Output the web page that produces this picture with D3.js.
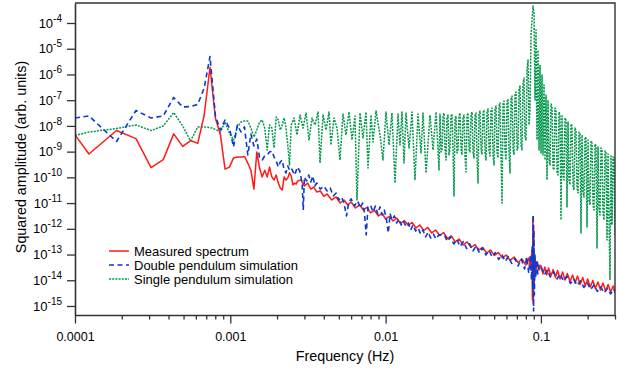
<!DOCTYPE html>
<html>
<head>
<meta charset="utf-8">
<script src="https://cdn.jsdelivr.net/npm/d3@7"></script>
<style>
  body { margin: 0; background: #fff; }
  svg { font-family: "Liberation Sans", Arial, Helvetica, sans-serif; }
</style>
</head>
<body>
<div id="chart"></div>
<script>
// ---- data: [frequency (Hz), squared amplitude] ----
const measured = [
  [1.0e-4, 4.5e-9], [1.23e-4, 8.1e-10], [1.85e-4, 6.6e-9], [2.47e-4, 3.2e-9], [3.09e-4, 2.4e-10],
  [3.70e-4, 4.9e-10], [4.32e-4, 4.9e-9], [4.94e-4, 1.6e-9], [5.55e-4, 2.7e-9], [6.17e-4, 2.1e-9],
  [6.79e-4, 2.6e-8], [7.40e-4, 1.9e-6], [8.02e-4, 2.0e-8], [8.64e-4, 4.5e-9], [9.25e-4, 2.1e-10],
  [9.87e-4, 2.5e-10], [1.049e-3, 5.7e-10], [1.111e-3, 6.2e-10], [1.172e-3, 6.2e-10], [1.234e-3, 6.5e-10],
  [1.296e-3, 3.6e-10], [1.357e-3, 1.9e-10], [1.419e-3, 3.5e-11], [1.481e-3, 9.7e-10], [1.543e-3, 2.3e-10],
  [1.604e-3, 1.04e-10], [1.666e-3, 1.9e-10], [1.728e-3, 1.04e-10], [1.789e-3, 2.5e-10], [1.851e-3, 1.04e-10],
  [1.913e-3, 7.9e-11], [1.974e-3, 1.24e-10], [2.036e-3, 6.0e-11], [2.098e-3, 3.9e-11], [2.160e-3, 3.2e-11],
  [2.221e-3, 1.04e-10], [2.283e-3, 7.9e-11], [2.345e-3, 9.5e-11], [2.406e-3, 1.5e-10], [2.468e-3, 1.13e-10],
  [2.530e-3, 5.1e-11], [2.591e-3, 6.0e-11], [2.653e-3, 5.5e-11], [2.715e-3, 7.2e-11], [2.85e-3, 7.9e-11],
  [3.0e-3, 4.6e-11], [3.15e-3, 6.0e-11], [3.3e-3, 3.5e-11], [3.45e-3, 4.2e-11], [3.6e-3, 2.7e-11],
  [3.8e-3, 2.95e-11], [0.0040, 1.84e-11], [0.0042, 2.26e-11], [0.0045, 1.32e-11], [0.0048, 1.73e-11],
  [0.0051, 1.01e-11], [0.0054, 1.32e-11], [0.0057, 8.45e-12], [0.0060, 1.10e-11], [0.0064, 6.45e-12],
  [0.0068, 8.45e-12], [0.0072, 5.4e-12], [0.0076, 6.75e-12], [0.0080, 4.13e-12], [0.0085, 5.16e-12],
  [0.0090, 3.16e-12], [0.0095, 3.95e-12], [0.0100, 2.41e-12], [0.0106, 3.02e-12], [0.0112, 2.02e-12],
  [0.0118, 2.64e-12], [0.0125, 1.61e-12], [0.0132, 2.11e-12], [0.0140, 1.35e-12], [0.0148, 1.76e-12],
  [0.0157, 1.08e-12], [0.0166, 1.41e-12], [0.0176, 8.6e-13], [0.0187, 1.13e-12], [0.0198, 6.9e-13],
  [0.0210, 9.0e-13], [0.0223, 5.5e-13], [0.0236, 7.2e-13], [0.0250, 4.2e-13], [0.0265, 5.3e-13],
  [0.0281, 3.1e-13], [0.0298, 4.0e-13], [0.0316, 2.35e-13], [0.0335, 3.1e-13], [0.0355, 1.88e-13],
  [0.0376, 2.46e-13], [0.0398, 1.51e-13], [0.0422, 1.88e-13], [0.0447, 1.15e-13], [0.0474, 1.51e-13],
  [0.0502, 9.2e-14], [0.0532, 1.2e-13], [0.0564, 7.4e-14], [0.0598, 9.6e-14], [0.0634, 5.9e-14],
  [0.0672, 8.0e-14], [0.0712, 4.9e-14], [0.0755, 6.7e-14], [0.0800, 3.9e-14], [0.0830, 7.4e-14],
  [0.0860, 3.0e-14], [0.0875, 1.5e-13], [0.0882, 1.7e-15], [0.0888, 2.9e-12], [0.0893, 1.2e-15],
  [0.0898, 1.4e-12], [0.0905, 6.6e-15], [0.0915, 7.4e-14], [0.0930, 2.1e-14], [0.0950, 5.1e-14],
  [0.0975, 2.5e-14], [0.100, 3.8e-14], [0.103, 1.76e-14], [0.106, 3.3e-14], [0.109, 1.61e-14],
  [0.112, 3.0e-14], [0.116, 1.47e-14], [0.120, 2.6e-14], [0.124, 1.29e-14], [0.128, 2.4e-14],
  [0.133, 1.12e-14], [0.138, 2.1e-14], [0.143, 1.03e-14], [0.148, 1.84e-14], [0.154, 9.0e-15],
  [0.160, 1.61e-14], [0.166, 7.9e-15], [0.172, 1.47e-14], [0.179, 6.9e-15], [0.186, 1.29e-14],
  [0.193, 6.0e-15], [0.200, 1.12e-14], [0.208, 5.5e-15], [0.216, 9.8e-15], [0.224, 4.8e-15],
  [0.233, 8.6e-15], [0.242, 4.2e-15], [0.251, 7.9e-15], [0.261, 3.8e-15], [0.271, 6.9e-15],
  [0.281, 3.5e-15], [0.292, 6.0e-15], [0.300, 3.8e-15]
];

const doublePendulum = [
  [1.0e-4, 2.03e-8], [1.23e-4, 2.43e-8], [1.85e-4, 2.48e-9], [2.47e-4, 3.97e-8], [3.09e-4, 2.03e-8],
  [3.70e-4, 2.43e-8], [4.32e-4, 1.27e-7], [4.94e-4, 5.43e-8], [5.55e-4, 5.69e-8], [6.17e-4, 6.8e-8],
  [6.79e-4, 2.98e-7], [7.40e-4, 4.99e-6], [8.02e-4, 2.43e-8], [8.64e-4, 6.94e-9], [9.25e-4, 1.7e-8],
  [9.87e-4, 8.3e-9], [1.049e-3, 1.52e-9], [1.111e-3, 1.09e-8], [1.172e-3, 5.8e-9], [1.234e-3, 9.1e-9],
  [1.296e-3, 7.4e-10], [1.357e-3, 4.85e-9], [1.419e-3, 1.66e-9], [1.481e-3, 3.1e-9], [1.543e-3, 5.67e-10],
  [1.604e-3, 4.74e-10], [1.666e-3, 6.78e-10], [1.728e-3, 7.4e-10], [1.789e-3, 9.7e-10], [1.851e-3, 1.06e-9],
  [1.913e-3, 6.2e-10], [1.974e-3, 4.33e-10], [2.036e-3, 2.53e-10], [2.098e-3, 3.96e-10], [2.160e-3, 4.74e-10],
  [2.221e-3, 1.94e-10], [2.283e-3, 1.48e-10], [2.345e-3, 2.77e-10], [2.406e-3, 1.94e-10], [2.468e-3, 2.32e-10],
  [2.6e-3, 1.24e-10], [2.7e-3, 2.53e-10], [2.8e-3, 1.77e-10], [2.9e-3, 6.05e-11], [2.95e-3, 5.4e-12],
  [3.0e-3, 1.04e-10], [3.1e-3, 7.2e-11], [3.2e-3, 1.24e-10], [3.3e-3, 6.6e-11], [3.4e-3, 1.13e-10],
  [3.5e-3, 4.6e-11], [3.6e-3, 6.05e-11], [3.8e-3, 3.5e-11], [4.0e-3, 4.6e-11], [4.2e-3, 2.96e-11],
  [4.4e-3, 3.86e-11], [4.6e-3, 1.89e-11], [4.8e-3, 2.47e-11], [5.0e-3, 1.32e-11], [5.2e-3, 1.73e-11],
  [5.4e-3, 1.01e-11], [5.6e-3, 3.16e-12], [5.8e-3, 1.1e-11], [6.0e-3, 1.45e-11], [6.3e-3, 7.7e-12],
  [6.6e-3, 1.21e-11], [6.9e-3, 6.45e-12], [7.1e-3, 1.01e-11], [7.3e-3, 4.5e-12], [7.5e-3, 5.8e-13],
  [7.7e-3, 7.1e-12], [8.0e-3, 8.45e-12], [8.3e-3, 4.5e-12], [8.6e-3, 7.7e-12], [8.9e-3, 3.78e-12],
  [9.2e-3, 7.1e-12], [9.5e-3, 3.45e-12], [9.8e-3, 5.4e-12], [1.01e-2, 2.64e-12], [1.04e-2, 6.9e-13],
  [1.07e-2, 3.78e-12], [1.10e-2, 2.21e-12], [1.14e-2, 3.16e-12], [1.18e-2, 1.69e-12], [1.22e-2, 2.41e-12],
  [1.26e-2, 1.41e-12], [1.30e-2, 2.02e-12], [1.35e-2, 1.29e-12], [1.40e-2, 1.69e-12], [1.45e-2, 9.0e-13],
  [1.50e-2, 1.41e-12], [1.56e-2, 8.2e-13], [1.62e-2, 1.08e-12], [1.68e-2, 6.3e-13], [1.74e-2, 9.0e-13],
  [1.81e-2, 4.82e-13], [1.88e-2, 7.5e-13], [1.95e-2, 4.4e-13], [2.03e-2, 6.3e-13], [2.11e-2, 4.03e-13],
  [2.20e-2, 5.8e-13], [0.0240, 5.5e-13], [0.0250, 3.22e-13], [0.0262, 4.82e-13], [0.0275, 2.58e-13],
  [0.0288, 3.85e-13], [0.0302, 2.06e-13], [0.0317, 3.22e-13], [0.0332, 1.72e-13], [0.0348, 2.58e-13],
  [0.0365, 1.38e-13], [0.0383, 2.15e-13], [0.0402, 1.15e-13], [0.0421, 1.8e-13], [0.0442, 9.6e-14],
  [0.0463, 1.44e-13], [0.0486, 8.05e-14], [0.0510, 1.2e-13], [0.0535, 6.4e-14], [0.0561, 1.0e-13],
  [0.0589, 5.4e-14], [0.0618, 8.4e-14], [0.0648, 4.5e-14], [0.0680, 7.0e-14], [0.0713, 3.6e-14],
  [0.0748, 6.7e-14], [0.0785, 2.75e-14], [0.0810, 8.05e-14], [0.0835, 1.92e-14], [0.0855, 9.6e-14],
  [0.0870, 1.03e-14], [0.0880, 2.35e-13], [0.0887, 4.2e-15], [0.0892, 3.45e-12], [0.0897, 6.4e-16],
  [0.0902, 9.0e-13], [0.0908, 2.7e-15], [0.0916, 9.6e-14], [0.0926, 1.23e-14], [0.0940, 6.15e-14],
  [0.0955, 1.76e-14], [0.0972, 3.94e-14], [0.101, 3.0e-14], [0.105, 1.61e-14], [0.110, 2.5e-14],
  [0.115, 1.34e-14], [0.121, 2.1e-14], [0.127, 1.12e-14], [0.133, 1.76e-14], [0.140, 9.4e-15],
  [0.147, 1.41e-14], [0.155, 7.5e-15], [0.163, 1.12e-14], [0.171, 6.3e-15], [0.180, 9.4e-15],
  [0.189, 5.25e-15], [0.199, 7.85e-15], [0.209, 4.4e-15], [0.220, 6.6e-15], [0.231, 3.7e-15],
  [0.243, 5.5e-15], [0.255, 3.2e-15], [0.268, 4.8e-15], [0.281, 2.94e-15], [0.295, 4.6e-15],
  [0.300, 3.2e-15]
];

const singlePendulum = [
  [1.0e-4, 4.25e-9], [1.23e-4, 5.8e-9], [1.85e-4, 7.9e-9], [2.47e-4, 1.09e-8], [3.09e-4, 6.6e-9],
  [3.70e-4, 9.9e-9], [4.32e-4, 3.3e-8], [4.94e-4, 9.9e-9], [5.55e-4, 2.6e-9], [6.17e-4, 9.1e-9],
  [6.79e-4, 9.1e-9], [7.40e-4, 8.7e-9], [8.02e-4, 7.3e-9], [8.64e-4, 5.8e-9], [9.25e-4, 1.42e-8],
  [9.87e-4, 5.3e-9], [1.049e-3, 2.84e-9], [1.111e-3, 9.1e-9], [1.172e-3, 1.42e-8], [1.234e-3, 1.55e-8],
  [1.296e-3, 1.55e-8], [1.357e-3, 8.3e-9], [1.419e-3, 3.7e-9], [1.481e-3, 6.9e-9], [1.543e-3, 1.4e-8],
  [1.604e-3, 1.7e-8], [1.666e-3, 8.3e-9], [1.728e-3, 1.16e-9], [1.789e-3, 1.09e-8], [1.851e-3, 8.3e-9],
  [1.913e-3, 1.39e-9], [1.974e-3, 2.22e-8], [2.036e-3, 1.7e-8], [2.098e-3, 6.9e-9], [2.160e-3, 1.09e-8],
  [2.221e-3, 2.03e-8], [2.283e-3, 8.3e-9], [2.345e-3, 1.81e-9], [2.406e-3, 3.0e-10], [2.468e-3, 1.09e-8],
  [2.572e-3, 2.03e-8], [2.689e-3, 4.44e-9], [2.811e-3, 2.66e-8], [2.939e-3, 8.3e-9], [3.073e-3, 3.18e-8],
  [3.212e-3, 2.84e-9], [3.359e-3, 2.03e-8], [3.512e-3, 1.09e-8], [3.672e-3, 3.48e-8], [3.782e-3, 3.62e-10],
  [3.954e-3, 2.66e-8], [4.134e-3, 6.94e-9], [4.322e-3, 3.48e-8], [4.45e-3, 1.81e-9], [4.653e-3, 2.03e-8],
  [4.865e-3, 8.3e-9], [5.086e-3, 4.73e-10], [5.317e-3, 2.91e-8], [5.56e-3, 4.44e-9], [5.812e-3, 3.48e-8],
  [6.077e-3, 2.84e-9], [6.353e-3, 2.43e-8], [6.544e-3, 1.32e-11], [6.842e-3, 3.18e-8], [7.153e-3, 3.4e-9],
  [7.479e-3, 3.48e-8], [7.704e-3, 2.32e-10], [8.056e-3, 2.66e-8], [8.299e-3, 2.37e-9], [8.677e-3, 3.8e-8],
  [9.203e-3, 4.44e-9], [9.622e-3, 4.73e-10], [1.006e-2, 3.48e-8], [1.052e-2, 1.81e-9], [1.099e-2, 3.18e-8],
  [1.150e-2, 6.05e-11], [1.202e-2, 2.91e-8], [1.238e-2, 1.81e-9], [1.275e-2, 3.48e-8], [1.314e-2, 3.62e-10],
  [1.353e-2, 3.18e-8], [1.415e-2, 1.39e-9], [1.479e-2, 3.48e-8], [1.546e-2, 7.91e-11], [1.617e-2, 2.91e-8],
  [1.690e-2, 8.87e-10], [1.741e-2, 3.18e-8], [1.821e-2, 1.48e-10], [1.932e-2, 2.66e-8], [2.020e-2, 1.16e-9],
  [2.112e-2, 3.48e-8], [2.208e-2, 1.94e-10],
  // dense band below the resonance
  [2.2404e-2, 2.91e-8], [2.2738e-2, 9.7e-10], [2.3078e-2, 1.16e-9], [2.3422e-2, 2.22e-8],
  [2.3773e-2, 3.18e-8], [2.4127e-2, 1.39e-9], [2.449e-2, 4.73e-10], [2.4855e-2, 2.03e-8],
  [2.5227e-2, 2.66e-8], [2.5603e-2, 7.41e-10], [2.5984e-2, 1.39e-9], [2.6371e-2, 2.43e-8],
  [2.6766e-2, 2.91e-8], [2.7165e-2, 1.16e-9], [2.7572e-2, 1.89e-11], [2.7983e-2, 1.86e-8],
  [2.8403e-2, 2.43e-8], [2.8826e-2, 8.87e-10], [2.9258e-2, 1.16e-9], [2.9694e-2, 2.43e-8],
  [3.0138e-2, 3.18e-8], [3.0587e-2, 1.39e-9], [3.1045e-2, 7.41e-10], [3.1508e-2, 2.03e-8],
  [3.198e-2, 2.66e-8], [3.2457e-2, 6.78e-10], [3.2944e-2, 1.62e-10], [3.3435e-2, 2.43e-8],
  [3.3935e-2, 3.18e-8], [3.4441e-2, 1.16e-9], [3.4955e-2, 9.7e-10], [3.5476e-2, 2.66e-8],
  [3.6007e-2, 3.48e-8], [3.6544e-2, 9.7e-10], [3.7091e-2, 5.67e-10], [3.7644e-2, 2.43e-8],
  [3.8209e-2, 3.18e-8], [3.8778e-2, 6.2e-10], [3.9359e-2, 6.05e-11], [3.9946e-2, 2.91e-8],
  [4.0543e-2, 3.8e-8], [4.1147e-2, 1.16e-9], [4.1763e-2, 8.1e-10], [4.2385e-2, 3.18e-8],
  [4.302e-2, 4.16e-8], [4.3661e-2, 8.87e-10], [4.4318e-2, 4.73e-10], [4.4978e-2, 3.48e-8],
  [4.5651e-2, 4.55e-8], [4.6331e-2, 1.16e-9], [4.7024e-2, 6.78e-10], [4.7725e-2, 3.8e-8],
  [4.844e-2, 4.97e-8], [4.9162e-2, 7.41e-10], [4.9897e-2, 3.03e-10], [5.0641e-2, 4.55e-8],
  [5.1402e-2, 5.94e-8], [5.2168e-2, 9.7e-10], [5.2948e-2, 5.67e-10], [5.3737e-2, 5.94e-8],
  [5.454e-2, 7.8e-8], [5.5353e-2, 6.78e-10], [5.6182e-2, 1.01e-11], [5.7019e-2, 7.1e-8],
  [5.7873e-2, 9.33e-8], [5.8735e-2, 1.16e-9], [5.9618e-2, 4.73e-10], [6.0506e-2, 8.5e-8],
  [6.1412e-2, 1.12e-7], [6.2327e-2, 9.7e-10], [6.3258e-2, 1.48e-10], [6.4201e-2, 1.12e-7],
  [6.5162e-2, 1.45e-7], [6.6133e-2, 1.39e-9], [6.7123e-2, 7.41e-10], [6.8123e-2, 1.59e-7],
  [6.9147e-2, 2.08e-7], [7.0177e-2, 1.16e-9], [7.1229e-2, 1.51e-9], [7.2291e-2, 2.49e-7],
  [7.337e-2, 3.56e-7], [7.4463e-2, 1.81e-9], [7.5578e-2, 1.16e-9], [7.6704e-2, 4.65e-7],
  [7.7853e-2, 7.28e-7], [7.9013e-2, 3.4e-9], [8.0201e-2, 2.84e-9], [8.1396e-2, 1.49e-6],
  [8.2615e-2, 3.65e-6], [8.3846e-2, 1.09e-8], [8.510e-2, 4.16e-8], [8.637e-2, 3.42e-5],
  // resonance peak and upper flank
  [8.897e-2, 4.58e-4], [9.030e-2, 2.24e-4], [9.165e-2, 1.02e-7], [9.302e-2, 5.34e-5],
  [9.441e-2, 2.84e-9], [9.582e-2, 8.93e-6], [9.725e-2, 1.16e-9], [9.870e-2, 2.33e-6],
  [0.10017, 8.87e-10], [0.10167, 9.53e-7], [0.10319, 7.41e-10], [0.10473, 3.89e-7],
  [0.1063, 4.73e-10], [0.10789, 1.59e-7], [0.1095, 7.91e-11], [0.11114, 1.02e-7],
  [0.1128, 4.73e-10], [0.11445, 3.03e-10], [0.11616, 7.1e-8], [0.11789, 5.94e-8],
  [0.11965, 2.32e-10], [0.12144, 1.94e-10], [0.12325, 4.97e-8], [0.1251, 4.16e-8],
  [0.12697, 1.62e-10], [0.12887, 1.24e-10], [0.13079, 3.48e-8], [0.13275, 2.66e-8],
  [0.13473, 2.21e-12], [0.13675, 2.43e-8], [0.13879, 1.13e-10], [0.14086, 7.91e-11],
  [0.14296, 2.03e-8], [0.14511, 1.7e-8], [0.14727, 7.06e-12], [0.14948, 1.42e-8],
  [0.15171, 7.91e-11], [0.15397, 5.06e-11], [0.15627, 1.19e-8], [0.1586, 9.97e-9],
  [0.16096, 4.63e-11], [0.16338, 3.23e-11], [0.16582, 8.3e-9], [0.1683, 6.94e-9],
  [0.17081, 3.87e-11], [0.17337, 2.48e-11], [0.17596, 5.8e-9], [0.17858, 4.86e-9],
  [0.18124, 6.89e-13], [0.18396, 4.44e-9], [0.1867, 2.7e-11], [0.18949, 1.73e-11],
  [0.19232, 3.7e-9], [0.1952, 3.4e-9], [0.19812, 1.18e-12], [0.20108, 2.84e-9],
  [0.20408, 1.32e-11], [0.20713, 8.45e-12], [0.21022, 2.6e-9], [0.21336, 2.16e-9],
  [0.21654, 8.45e-12], [0.21979, 5.4e-12], [0.22307, 1.98e-9], [0.22641, 1.66e-9],
  [0.22979, 1.79e-13], [0.23323, 1.51e-9], [0.23671, 5.4e-12], [0.24023, 3.45e-12],
  [0.24381, 1.39e-9], [0.24746, 1.16e-9], [0.25115, 4.5e-12], [0.25491, 2.21e-12],
  [0.25871, 1.06e-9], [0.26259, 9.7e-10], [0.26651, 3.68e-13], [0.2705, 8.1e-10],
  [0.27453, 2.64e-12], [0.2786, 1.03e-14], [0.28275, 6.78e-10], [0.28699, 1.41e-12],
  [0.29127, 6.2e-10], [0.29562, 5.67e-10], [0.3, 5.76e-13]
];

const xTickLabels = ["0.0001", "0.001", "0.01", "0.1"];
const yTickExponents = [-4, -5, -6, -7, -8, -9, -10, -11, -12, -13, -14, -15];
const legendLabels = ["Measured spectrum", "Double pendulum simulation", "Single pendulum simulation"];

// ---- layout ----
const W = 618, H = 368;
const margin = {top: 3, right: 3, bottom: 53, left: 75},
    width = W - margin.left - margin.right,
    height = H - margin.top - margin.bottom;

const svg = d3.select("#chart").append("svg")
    .attr("width", W)
    .attr("height", H);
const g = svg.append("g")
    .attr("transform", "translate(" + margin.left + "," + margin.top + ")");

const x = d3.scaleLog().domain([1e-4, 0.3]).range([0, width]);
const y = d3.scaleLog().domain([Math.pow(10, -15.35), Math.pow(10, -3.2226)]).range([height, 0]);

g.append("clipPath").attr("id", "plotclip")
  .append("rect").attr("width", width).attr("height", height);

// series styles (green drawn first, blue on top)
const series = [
  {data: singlePendulum, color: "#00974a", dash: "2,1.2", w: 1.5},
  {data: measured, color: "#ff1a1a", dash: null, w: 1.5},
  {data: doublePendulum, color: "#0a3ad2", dash: "5,3.5", w: 1.6}
];
const legendStyle = [series[1], series[2], series[0]];

const line = d3.line().x(d => x(d[0])).y(d => y(d[1]));
const plot = g.append("g").attr("clip-path", "url(#plotclip)");
series.forEach(s => {
  plot.append("path")
    .datum(s.data)
    .attr("fill", "none")
    .attr("stroke", s.color)
    .attr("stroke-width", s.w)
    .attr("stroke-linejoin", "round")
    .attr("stroke-dasharray", s.dash)
    .attr("d", line);
});

// ---- axes ----
const xTicks = [];
[1e-4, 1e-3, 1e-2, 1e-1].forEach(dec => {
  for (let k = 1; k <= 9; k++) {
    if (k * dec <= 0.3001) xTicks.push(k * dec);
  }
});
const isMajor = d => Math.abs(Math.log10(d) - Math.round(Math.log10(d))) < 1e-6;

const xAxis = d3.axisBottom(x)
  .tickValues(xTicks)
  .tickSize(4.5)
  .tickSizeOuter(0)
  .tickFormat(d => isMajor(d) ? xTickLabels[Math.round(Math.log10(d)) + 4] : "");
const gx = g.append("g").attr("transform", "translate(0," + height + ")").call(xAxis);
gx.selectAll(".tick line").attr("y2", d => isMajor(d) ? 8.5 : 4.5);
gx.selectAll(".tick text").attr("y", 17);

const yAxis = d3.axisLeft(y)
  .tickValues(yTickExponents.map(e => Math.pow(10, e)))
  .tickSize(8)
  .tickSizeOuter(0)
  .tickPadding(5)
  .tickFormat(() => "10");
const gy = g.append("g").call(yAxis);
gy.selectAll(".tick text").each(function(d, i) {
  d3.select(this).append("tspan")
    .attr("dy", "-6")
    .attr("font-size", 10)
    .text(yTickExponents[i]);
});

[gx, gy].forEach(a => {
  a.attr("font-family", null).attr("font-size", 12.5);
  a.selectAll("text").attr("fill", "#000");
  a.select(".domain").attr("stroke", "#333").attr("stroke-width", 1.6);
  a.selectAll(".tick line").attr("stroke", "#333").attr("stroke-width", 1.3);
});
gy.attr("font-size", 13);

// frame on top and right
g.append("path")
  .attr("d", "M0,0H" + width + "V" + height)
  .attr("fill", "none")
  .attr("stroke", "#333")
  .attr("stroke-width", 1.4);

// axis titles
svg.append("text")
  .attr("x", margin.left + width / 2)
  .attr("y", 361)
  .attr("text-anchor", "middle")
  .attr("font-size", 14.3)
  .text("Frequency (Hz)");
svg.append("text")
  .attr("transform", "translate(26," + (margin.top + height / 2 - 2) + ") rotate(-90)")
  .attr("text-anchor", "middle")
  .attr("font-size", 14.3)
  .text("Squared amplitude (arb. units)");

// legend
const legend = svg.append("g").attr("transform", "translate(109,251)");
legendLabels.forEach((label, i) => {
  const s = legendStyle[i];
  const row = legend.append("g").attr("transform", "translate(0," + (i * 14) + ")");
  row.append("line")
    .attr("x1", 0).attr("x2", 20)
    .attr("stroke", s.color)
    .attr("stroke-width", s.w)
    .attr("stroke-dasharray", s.dash);
  row.append("text")
    .attr("x", 25)
    .attr("y", 4.5)
    .attr("font-size", 13)
    .text(label);
});
</script>
</body>
</html>
